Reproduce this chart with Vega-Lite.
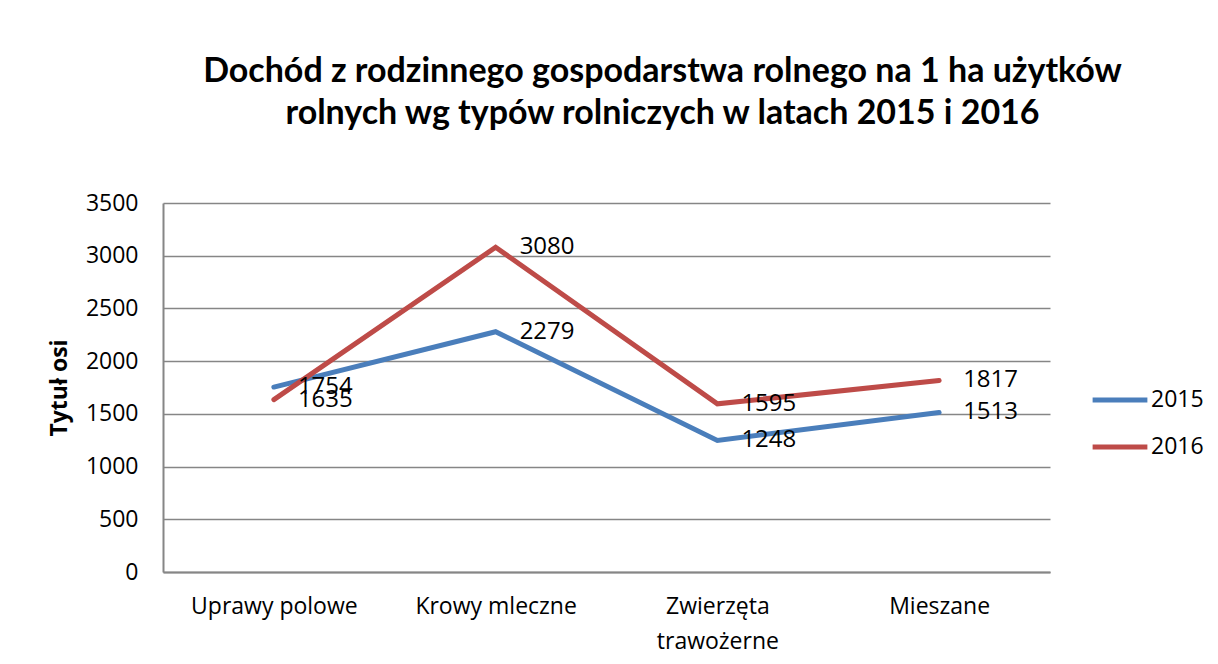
{
  "$schema": "https://vega.github.io/schema/vega-lite/v6.json",
  "autosize": "none",
  "width": 887,
  "height": 369,
  "padding": {"left": 163, "top": 203, "right": 168, "bottom": 92},
  "background": "white",
  "title": {
    "text": ["Dochód z rodzinnego gospodarstwa rolnego  na 1 ha użytków", "rolnych wg typów rolniczych  w latach 2015 i 2016"],
    "font": "Lato",
    "fontSize": 34,
    "fontWeight": "bold",
    "color": "black",
    "anchor": "middle",
    "dx": 56,
    "offset": 61,
    "lineHeight": 42
  },
  "data": {
    "values": [
      {"typ": "Uprawy polowe", "rok": "2015", "dochod": 1754},
      {"typ": "Krowy mleczne", "rok": "2015", "dochod": 2279},
      {"typ": "Zwierzęta trawożerne", "rok": "2015", "dochod": 1248},
      {"typ": "Mieszane", "rok": "2015", "dochod": 1513},
      {"typ": "Uprawy polowe", "rok": "2016", "dochod": 1635},
      {"typ": "Krowy mleczne", "rok": "2016", "dochod": 3080},
      {"typ": "Zwierzęta trawożerne", "rok": "2016", "dochod": 1595},
      {"typ": "Mieszane", "rok": "2016", "dochod": 1817}
    ]
  },
  "encoding": {
    "x": {
      "field": "typ",
      "type": "nominal",
      "sort": ["Uprawy polowe", "Krowy mleczne", "Zwierzęta trawożerne", "Mieszane"],
      "scale": {"type": "point", "padding": 0.5},
      "axis": {
        "title": null,
        "labelAngle": 0,
        "labelFont": "Open Sans",
        "labelFontSize": 23,
        "labelColor": "black",
        "labelPadding": 23,
        "labelLineHeight": 35,
        "labelBaseline": "top",
        "ticks": false,
        "domainColor": "#868686",
        "domainWidth": 2,
        "grid": false,
        "labelExpr": "datum.label == 'Zwierzęta trawożerne' ? ['Zwierzęta', 'trawożerne'] : datum.label"
      }
    },
    "y": {
      "field": "dochod",
      "type": "quantitative",
      "scale": {"domain": [0, 3500]},
      "axis": {
        "title": "Tytuł osi",
        "titleFont": "Open Sans",
        "titleFontSize": 23,
        "titleFontWeight": "bold",
        "titleColor": "black",
        "titlePadding": 14,
        "values": [0, 500, 1000, 1500, 2000, 2500, 3000, 3500],
        "format": "d",
        "labelFont": "Open Sans",
        "labelFontSize": 23,
        "labelColor": "black",
        "labelPadding": 25,
        "ticks": false,
        "domainColor": "#868686",
        "domainWidth": 2,
        "gridColor": "#868686",
        "gridWidth": 1.5
      }
    },
    "color": {
      "field": "rok",
      "type": "nominal",
      "scale": {"domain": ["2015", "2016"], "range": ["#4a7ebb", "#be4b48"]},
      "legend": {
        "title": null,
        "orient": "none",
        "legendX": 927,
        "legendY": 167,
        "symbolType": "stroke",
        "symbolSize": 3000,
        "symbolStrokeWidth": 5,
        "labelFont": "Open Sans",
        "labelFontSize": 23,
        "labelColor": "black",
        "rowPadding": 5,
        "labelOffset": 1
      }
    }
  },
  "layer": [
    {
      "mark": {"type": "line", "strokeWidth": 5, "strokeCap": "round"}
    },
    {
      "mark": {"type": "text", "align": "left", "baseline": "middle", "dx": 24, "font": "Open Sans", "fontSize": 24, "color": "black"},
      "encoding": {
        "text": {"field": "dochod", "type": "quantitative", "format": "d"},
        "color": {"value": "black"}
      }
    }
  ],
  "config": {"view": {"stroke": null}}
}
